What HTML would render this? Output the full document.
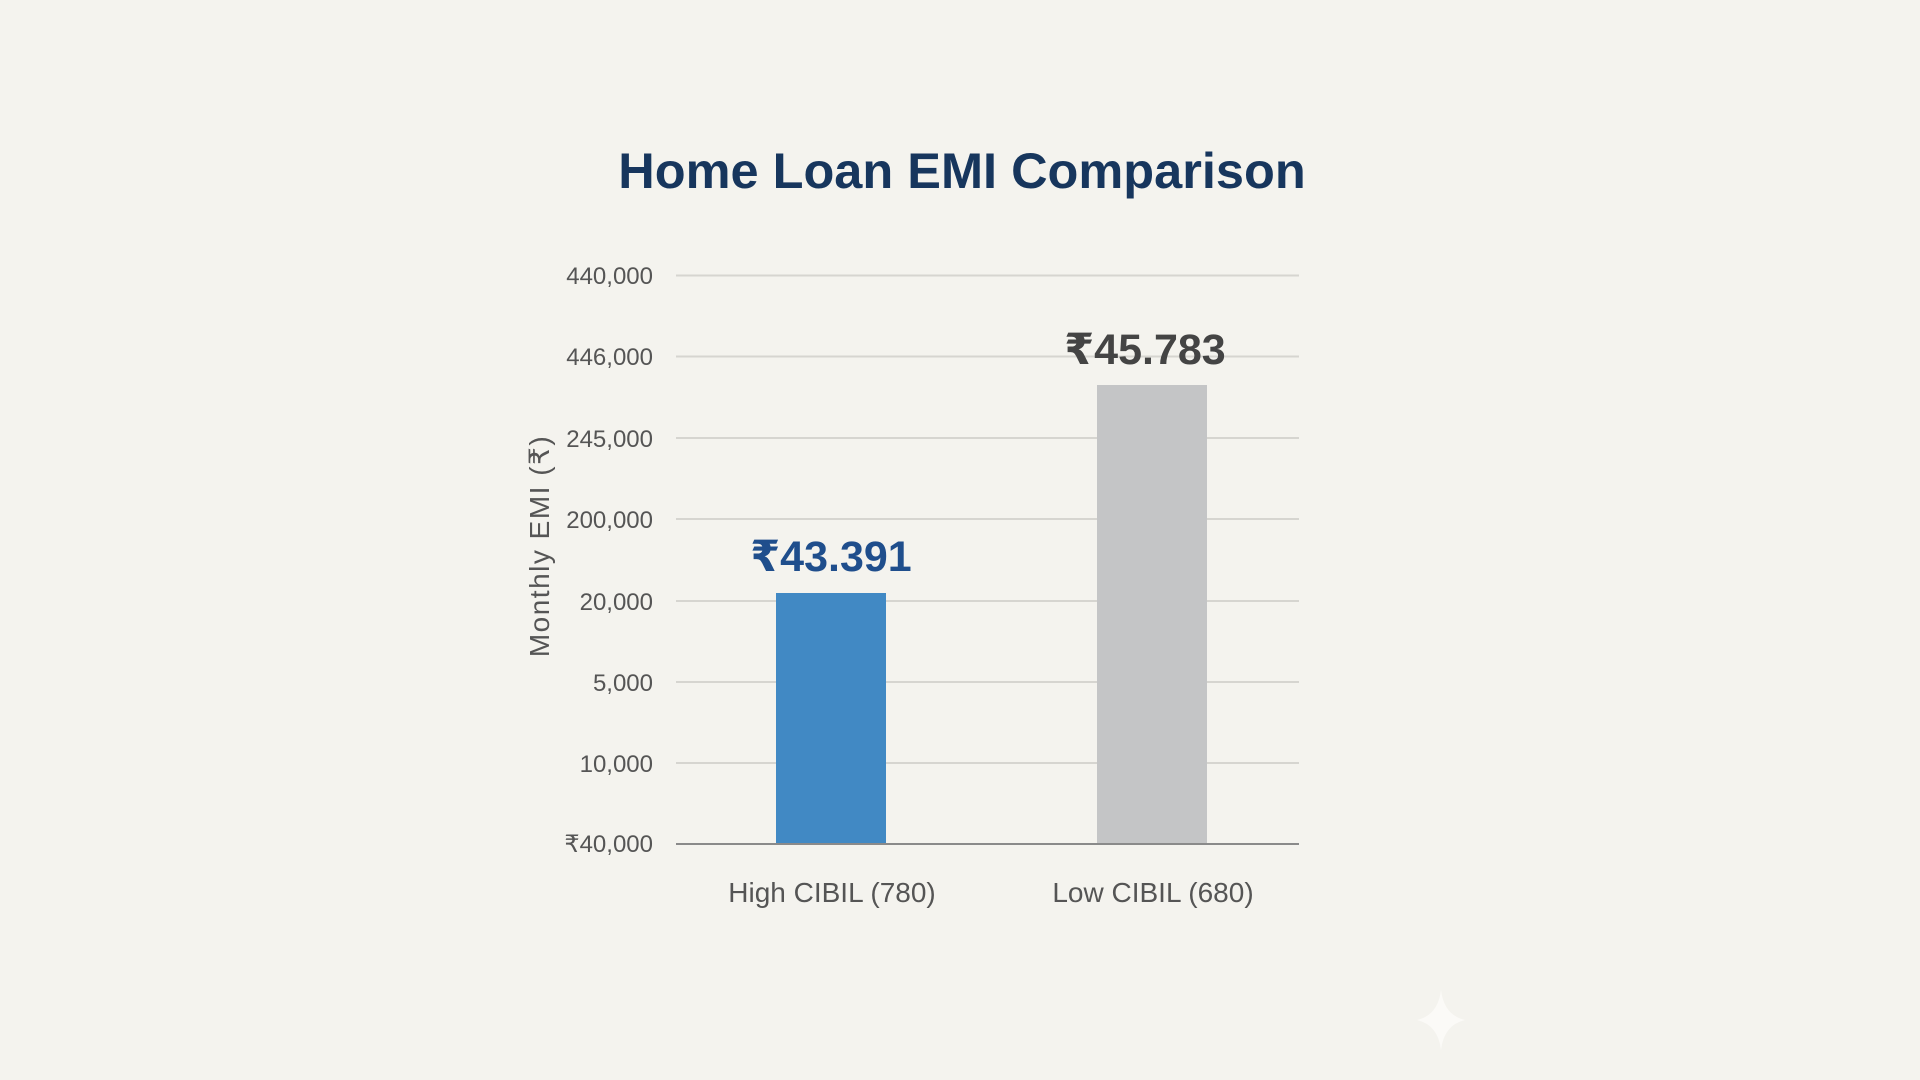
<!DOCTYPE html>
<html><head><meta charset="utf-8"><style>
html,body{margin:0;padding:0;background:#f4f3ee;}
svg{display:block;font-family:"Liberation Sans","DejaVu Sans",sans-serif;}
</style></head><body>
<svg width="1920" height="1080" viewBox="0 0 1920 1080">
<rect width="1920" height="1080" fill="#f4f3ee"/>
<text x="962" y="188" text-anchor="middle" font-size="50.5" font-weight="bold" fill="#17365d">Home Loan EMI Comparison</text>
<g stroke="#d6d5d0" stroke-width="2">
<line x1="676" x2="1299" y1="275.5" y2="275.5"/>
<line x1="676" x2="1299" y1="356.5" y2="356.5"/>
<line x1="676" x2="1299" y1="438" y2="438"/>
<line x1="676" x2="1299" y1="519" y2="519"/>
<line x1="676" x2="1299" y1="601" y2="601"/>
<line x1="676" x2="1299" y1="682" y2="682"/>
<line x1="676" x2="1299" y1="763" y2="763"/>
</g>
<g font-size="24" fill="#555" text-anchor="end">
<text x="653" y="284">440,000</text>
<text x="653" y="365">446,000</text>
<text x="653" y="447">245,000</text>
<text x="653" y="528">200,000</text>
<text x="653" y="610">20,000</text>
<text x="653" y="691">5,000</text>
<text x="653" y="772">10,000</text>
<text x="653" y="852">₹40,000</text>
</g>
<rect x="776" y="593" width="110" height="251" fill="#4189c4"/>
<rect x="1097" y="385" width="110" height="459" fill="#c4c5c6"/>
<line x1="676" x2="1299" y1="844" y2="844" stroke="#8a8a8a" stroke-width="2"/>
<text x="831" y="571" text-anchor="middle" font-size="43" font-weight="bold" fill="#1f4e8c">₹43.391</text>
<text x="1145" y="364" text-anchor="middle" font-size="43" font-weight="bold" fill="#444">₹45.783</text>
<text x="832" y="902" text-anchor="middle" font-size="28" fill="#555">High CIBIL (780)</text>
<text x="1153" y="902" text-anchor="middle" font-size="28" fill="#555">Low CIBIL (680)</text>
<text transform="translate(549,546) rotate(-90)" text-anchor="middle" font-size="28" letter-spacing="1.5" fill="#555">Monthly EMI (₹)</text>
<path d="M1441 990 Q1444 1015 1465 1020 Q1444 1025 1441 1050 Q1438 1025 1417 1020 Q1438 1015 1441 990Z" fill="#fbfaf7"/>
</svg>
</body></html>
